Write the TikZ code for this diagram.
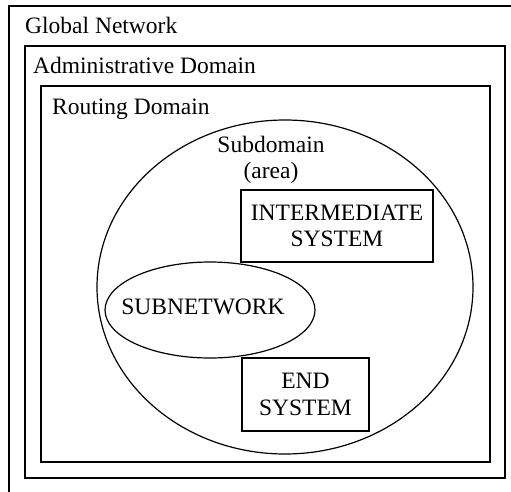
\documentclass[tikz,border=0pt]{standalone}
\usepackage{fontspec}
\setmainfont{Liberation Serif}
\usetikzlibrary{shapes.geometric}

\begin{document}
\begin{tikzpicture}[
  x=1pt, y=-1pt,
  font=\fontsize{23.5}{26.5}\selectfont,
  area/.style={draw, line width=1.3pt, rectangle, inner sep=0pt, outer sep=0pt},
  zone/.style={draw, line width=1.2pt, ellipse, inner sep=0pt, outer sep=0pt},
  system/.style={draw, line width=1.2pt, rectangle, align=center, inner sep=0pt, outer sep=0pt},
  title/.style={anchor=base west, inner sep=0pt},
  caption/.style={align=center, inner sep=0pt}
]
\useasboundingbox (0,0) rectangle (511,492);

\node[area, minimum width=511pt, minimum height=494pt] (global) at (264.5,253) {};
\node[area, minimum width=480pt, minimum height=432pt] (admin) at (265,262) {};
\node[area, minimum width=449pt, minimum height=376pt] (routing) at (265.5,274) {};

\node[title] (globalLbl) at (25,34) {Global Network};
\node[title] (adminLbl) at (33,74) {Administrative Domain};
\node[title] (routingLbl) at (52,115) {Routing Domain};

\node[zone, minimum width=376pt, minimum height=334pt] (subdomain) at (285,287) {};
\node[caption] (subdomainLbl) at (271,160) {Subdomain\\(area)};

\node[zone, minimum width=210pt, minimum height=96pt] (subnet) at (210,310) {};
\node[caption] (subnetLbl) at (203,307) {SUBNETWORK};

\node[system, minimum width=192pt, minimum height=72pt] (is) at (337,226) {INTERMEDIATE\\SYSTEM};
\node[system, minimum width=127pt, minimum height=73pt] (es) at (305.5,394.5) {END\\SYSTEM};
\end{tikzpicture}
\end{document}
